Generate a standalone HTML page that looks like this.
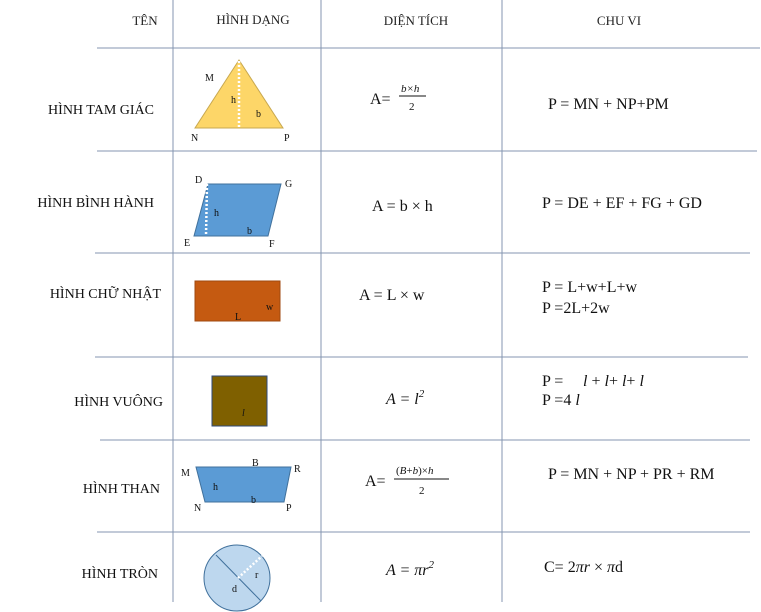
<!DOCTYPE html>
<html><head><meta charset="utf-8"><style>
html,body{margin:0;padding:0;background:#fff;}
svg{display:block;font-family:"Liberation Serif",serif;}
.h{font-size:13px;fill:#222;}
.n{font-size:14px;fill:#111;}
.f{font-size:16px;fill:#111;}
.s{font-size:10px;fill:#111;}
.i{font-style:italic;}
</style></head><body>
<svg width="761" height="612" viewBox="0 0 761 612">
<g stroke="#8496b0" stroke-width="1">
<line x1="173" y1="0" x2="173" y2="602"/>
<line x1="321" y1="0" x2="321" y2="602"/>
<line x1="502" y1="0" x2="502" y2="602"/>
<line x1="97" y1="48" x2="760" y2="48"/>
<line x1="97" y1="151" x2="757" y2="151"/>
<line x1="95" y1="253" x2="750" y2="253"/>
<line x1="95" y1="357" x2="748" y2="357"/>
<line x1="100" y1="440" x2="750" y2="440"/>
<line x1="97" y1="532" x2="750" y2="532"/>
</g>
<g class="h" text-anchor="middle">
<text x="145" y="25">TÊN</text><text x="253" y="24">HÌNH DẠNG</text>
<text x="416" y="25">DIỆN TÍCH</text><text x="619" y="25">CHU VI</text>
</g>
<g class="n" text-anchor="end">
<text x="154" y="114">HÌNH TAM GIÁC</text>
<text x="154" y="207">HÌNH BÌNH HÀNH</text>
<text x="161" y="298">HÌNH CHỮ NHẬT</text>
<text x="163" y="406">HÌNH VUÔNG</text>
<text x="160" y="493">HÌNH THAN</text>
<text x="158" y="578">HÌNH TRÒN</text>
</g>
<g>
<polygon points="239,60 195,128 283,128" fill="#fdd668" stroke="#c8a850"/>
<line x1="239" y1="61" x2="239" y2="128" stroke="#fff" stroke-width="2.5" stroke-dasharray="2,2"/>
<g class="s"><text x="205" y="81">M</text><text x="231" y="103">h</text><text x="256" y="117">b</text><text x="191" y="141">N</text><text x="284" y="141">P</text></g>
</g>
<g>
<polygon points="208,184 281,184 268,236 194,236" fill="#5b9bd5" stroke="#41719c"/>
<line x1="207" y1="184" x2="206" y2="236" stroke="#fff" stroke-width="2.5" stroke-dasharray="2,2"/>
<g class="s"><text x="195" y="183">D</text><text x="285" y="187">G</text><text x="214" y="216">h</text><text x="247" y="234">b</text><text x="184" y="246">E</text><text x="269" y="247">F</text></g>
</g>
<g>
<rect x="195" y="281" width="85" height="40" fill="#c55a11" stroke="#a04a10"/>
<g class="s"><text x="266" y="310">w</text><text x="235" y="320">L</text></g>
</g>
<g>
<rect x="212" y="376" width="55" height="50" fill="#7f6000" stroke="#2f4a7a"/>
<text class="s i" x="242" y="416">l</text>
</g>
<g>
<polygon points="196,467 291,467 284,502 205,502" fill="#5b9bd5" stroke="#41719c"/>
<g class="s"><text x="181" y="476">M</text><text x="252" y="466">B</text><text x="294" y="472">R</text><text x="213" y="490">h</text><text x="251" y="503">b</text><text x="194" y="511">N</text><text x="286" y="511">P</text></g>
</g>
<g>
<circle cx="237" cy="578" r="33" fill="#bdd7ee" stroke="#41719c"/>
<line x1="216" y1="555" x2="261" y2="601" stroke="#41719c"/>
<line x1="238" y1="578" x2="262" y2="556" stroke="#fff" stroke-width="2.5" stroke-dasharray="2,2"/>
<g class="s"><text x="255" y="578">r</text><text x="232" y="592">d</text></g>
</g>
<g class="f">
<text x="370" y="104">A=</text>
<text x="401" y="92" font-size="11" class="i">b×h</text><line x1="399" y1="96" x2="426" y2="96" stroke="#111"/><text x="409" y="110" font-size="11">2</text>
<text x="372" y="211">A = b × h</text>
<text x="359" y="300">A = L × w</text>
<text x="386" y="404" class="i">A = l<tspan font-size="11" dy="-7">2</tspan></text>
<text x="365" y="486">A=</text>
<text x="396" y="474" font-size="11">(<tspan class="i">B</tspan>+<tspan class="i">b</tspan>)×<tspan class="i">h</tspan></text><line x1="394" y1="479" x2="449" y2="479" stroke="#111"/><text x="419" y="494" font-size="11">2</text>
<text x="386" y="575" class="i">A = πr<tspan font-size="11" dy="-7">2</tspan></text>
</g>
<g class="f">
<text x="548" y="109">P = MN + NP+PM</text>
<text x="542" y="208">P = DE + EF + FG + GD</text>
<text x="542" y="292">P = L+w+L+w</text>
<text x="542" y="313">P =2L+2w</text>
<text x="542" y="386">P =</text>
<text x="583" y="386"><tspan class="i">l</tspan> + <tspan class="i">l</tspan>+ <tspan class="i">l</tspan>+ <tspan class="i">l</tspan></text>
<text x="542" y="405">P =4 <tspan class="i">l</tspan></text>
<text x="548" y="479">P = MN + NP + PR + RM</text>
<text x="544" y="572">C= 2<tspan class="i">πr</tspan> × <tspan class="i">π</tspan>d</text>
</g>
</svg>
</body></html>
